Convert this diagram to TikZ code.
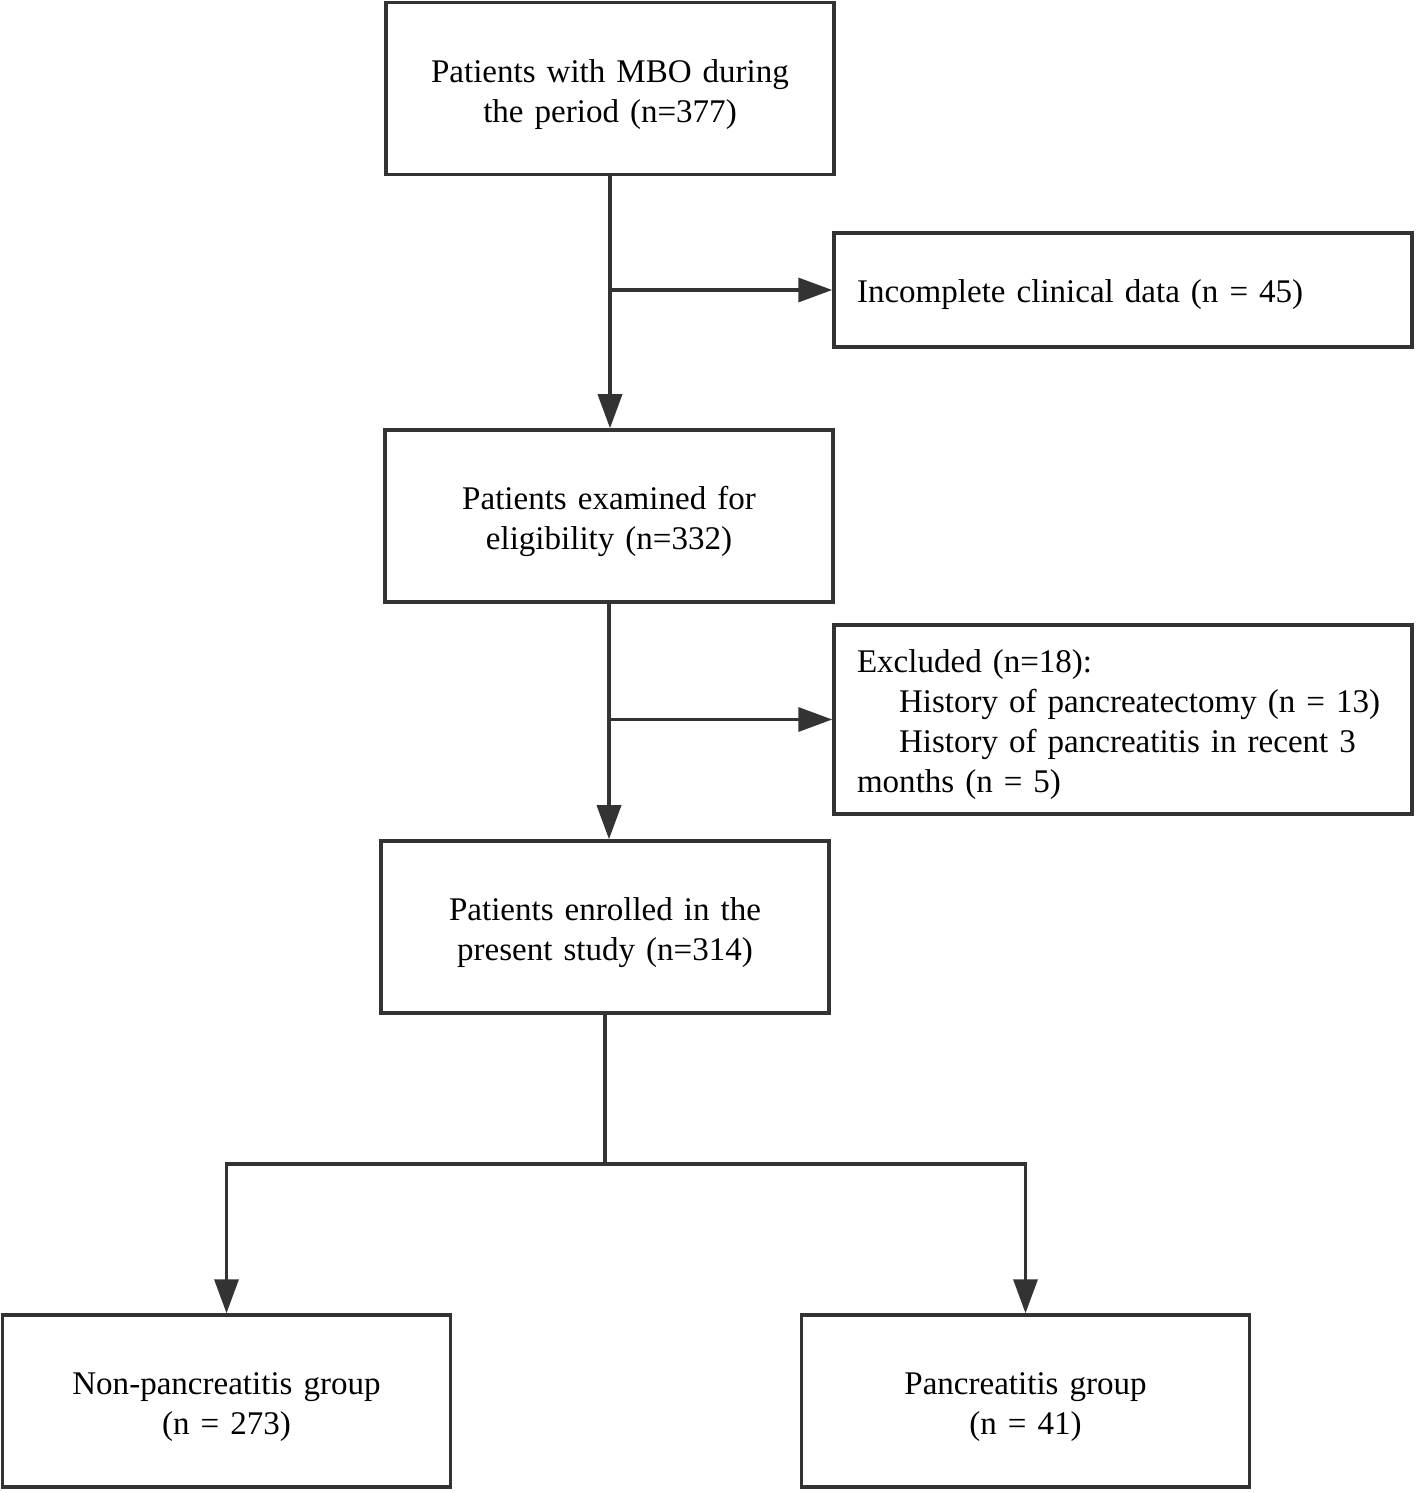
\documentclass[tikz,border=0pt]{standalone}
\usepackage{fontspec}
\setmainfont{Liberation Serif}
\usepackage{tikz}
\usetikzlibrary{shapes,arrows,calc,arrows.meta,positioning}
\definecolor{linegray}{HTML}{333333}
\tikzset{
	stage/.style ={rectangle, draw, inner xsep=0.3cm, text width=8.36cm, minimum height=3.44cm, align=center,
	    execute at begin node={\rule{0pt}{19.6pt}}},
	side/.style ={rectangle, draw, inner xsep=0.46cm, text width=10.64cm, align=left,
	    execute at begin node={\rule{0pt}{18.6pt}}},
	plain/.style ={-}
}
\begin{document}
\begin{tikzpicture}[-{Triangle[length=0.68cm,width=0.48cm]}, line width=2pt, draw=linegray,
    font=\fontsize{18.8}{22.8}\selectfont]
    \useasboundingbox (0,0) rectangle (28.32,-29.86);
    \node[stage] (mbo) at (12.2,-1.77) {Patients with MBO during\\the period (n=377)};
    \node[side, minimum height=2.28cm] (incomplete) at (22.46,-5.8) {Incomplete clinical data (n = 45)};
    \node[stage] (examined) at (12.18,-10.32) {Patients examined for\\eligibility (n=332)};
    \node[side, minimum height=3.78cm] (excluded) at (22.46,-14.39) {Excluded (n=18):\\
        \hspace*{0.84cm}History of pancreatectomy (n = 13)\\
        \hspace*{0.84cm}History of pancreatitis in recent 3\\
        months (n = 5)};
    \node[stage] (enrolled) at (12.1,-18.54) {Patients enrolled in the\\present study (n=314)};
    \node[stage] (nonpanc) at (4.53,-28.02) {Non-pancreatitis group\\(n = 273)};
    \node[stage] (panc) at (20.51,-28.02) {Pancreatitis group\\(n = 41)};

    \coordinate (split) at ($(enrolled.south)+(0,-2.98)$);

    \draw (mbo.south) -- (mbo.south |- examined.north);
    \draw (mbo.south |- incomplete.west) -- (incomplete.west);
    \draw (examined.south) -- (examined.south |- enrolled.north);
    \draw (examined.south |- excluded.west) -- (excluded.west);
    \draw[plain] (enrolled.south) -- (split);
    \draw (split) -| (nonpanc.north);
    \draw (split) -| (panc.north);
\end{tikzpicture}
\end{document}
